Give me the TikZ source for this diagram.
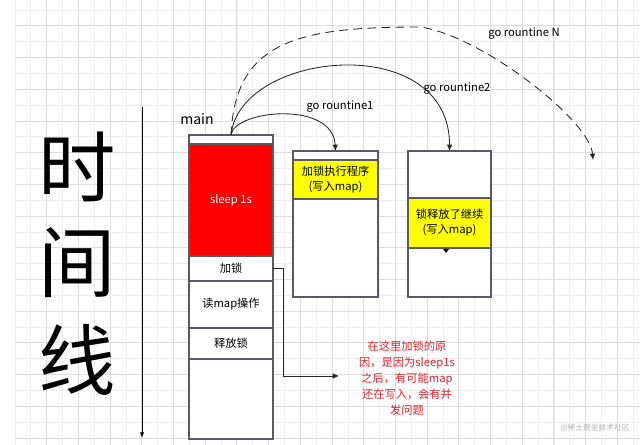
\documentclass[tikz,border=0pt]{standalone}
\usepackage{fontspec}
\setmainfont{Noto Sans CJK SC}
\usetikzlibrary{positioning,arrows.meta}
\definecolor{gridmin}{HTML}{EEEEEE}
\definecolor{gridmaj}{HTML}{DDDDDD}
\definecolor{frame}{HTML}{5A5A66}
\definecolor{sleepred}{HTML}{FF0000}
\definecolor{lockyel}{HTML}{FFFF00}
\definecolor{notered}{HTML}{E8202A}
\def\pu{0.025cm}
\tikzset{
  seg/.style={draw=frame, fill=white, line width=0.8pt, outer sep=0pt, inner sep=0pt, align=center},
  call/.style={draw=black!85, line width=0.6pt, -{Latex[length=4.5pt,width=4pt]}},
  bigch/.style={font=\fontsize{55}{55}\selectfont}}

\begin{document}
\begin{tikzpicture}[x=\pu, y=-\pu, node distance=0pt, font=\fontsize{8}{10.7}\selectfont]
\useasboundingbox (0,0) rectangle (640,445);
\fill[white] (0,0) rectangle (640,445);
% grid paper
\foreach \k in {0,...,39} {
  \pgfmathsetmacro\gx{15+15.85*\k}
  \draw[gridmin, line width=0.5pt] (\gx,0) -- (\gx,445);}
\foreach \k in {0,...,27} {
  \pgfmathsetmacro\gy{10+15.85*\k}
  \draw[gridmin, line width=0.5pt] (15,\gy) -- (640,\gy);}
\foreach \k in {1,...,19} {
  \pgfmathsetmacro\gx{15+31.7*\k}
  \draw[gridmaj, line width=0.6pt] (\gx,0) -- (\gx,445);}
\foreach \k in {0,...,13} {
  \pgfmathsetmacro\gy{25.85+31.7*\k}
  \draw[gridmaj, line width=0.6pt] (15,\gy) -- (640,\gy);}

% time line
\node[bigch] (tshi) at (77,167) {时};
\node[bigch] (tjian) at (77,263) {间};
\node[bigch] (txian) at (77,360) {线};
\coordinate (tstart) at (142,107);
\coordinate (tend) at (142,438);
\draw[line width=0.6pt, -{Latex[length=4pt,width=3pt]}] (tstart) -- (tend);

% main
\node[font=\fontsize{10}{12}\selectfont] (mainlbl) at (197,119) {main};
\node[seg, minimum width=84*\pu, minimum height=9*\pu, anchor=north] (mtop) at (231,135) {};
\node[seg, fill=sleepred, text=white, minimum width=84*\pu, minimum height=112*\pu, below=of mtop] (msleep) {sleep 1s};
\node[seg, minimum width=84*\pu, minimum height=25*\pu, below=of msleep] (mlock) {加锁};
\node[seg, minimum width=84*\pu, minimum height=47*\pu, below=of mlock] (mread) {读map操作};
\node[seg, minimum width=84*\pu, minimum height=31*\pu, below=of mread] (mfree) {释放锁};
\node[seg, minimum width=84*\pu, minimum height=80*\pu, below=of mfree] (mrest) {};

% go routine 1
\node[seg, minimum width=85*\pu, minimum height=9*\pu, anchor=north] (gatop) at (335.5,151) {};
\node[seg, fill=lockyel, minimum width=85*\pu, minimum height=39*\pu, below=of gatop] (gayel) {加锁执行程序\\(写入map)};
\node[seg, minimum width=85*\pu, minimum height=98*\pu, below=of gayel] (garest) {};

% go routine 2
\node[seg, minimum width=83*\pu, minimum height=47*\pu, anchor=north] (gbtop) at (449.5,151) {};
\node[seg, fill=lockyel, minimum width=83*\pu, minimum height=50*\pu, below=of gbtop] (gbyel) {锁释放了继续\\(写入map)};
\node[seg, minimum width=83*\pu, minimum height=49*\pu, below=of gbyel] (gbrest) {};
\fill[black] (443,249) -- (449,249) -- (446,253) -- cycle;

% spawning
\draw[call] (mtop.north) .. controls (234,110) and (333,100) .. (gatop.north);
\draw[call] (mtop.north) .. controls (240,50) and (450,30) .. (gbtop.north);
\coordinate (nend) at (593,160);
\draw[call, dash pattern=on 6pt off 4pt] (mtop.north) .. controls (235,40) and (300,27) .. (420,27)
  .. controls (480,35) and (590,120) .. (nend);
\node (lga) at (340,107) {go rountine1};
\node (lgb) at (457,89) {go rountine2};
\node (lgn) at (524,34) {go rountine N};

% why lock here
\coordinate (lockend) at (339,376);
\draw[call] (mlock.east) -- ++(10,0) |- (lockend);
\node[text=notered, align=center, font=\fontsize{8}{11.4}\selectfont] (note) at (407,378)
  {在这里加锁的原\\因，是因为sleep1s\\之后，有可能map\\还在写入，会有并\\发问题};
\node[text=black!30, font=\fontsize{5.5}{6}\selectfont] (wm) at (595,428) {@稀土掘金技术社区};
\end{tikzpicture}
\end{document}
